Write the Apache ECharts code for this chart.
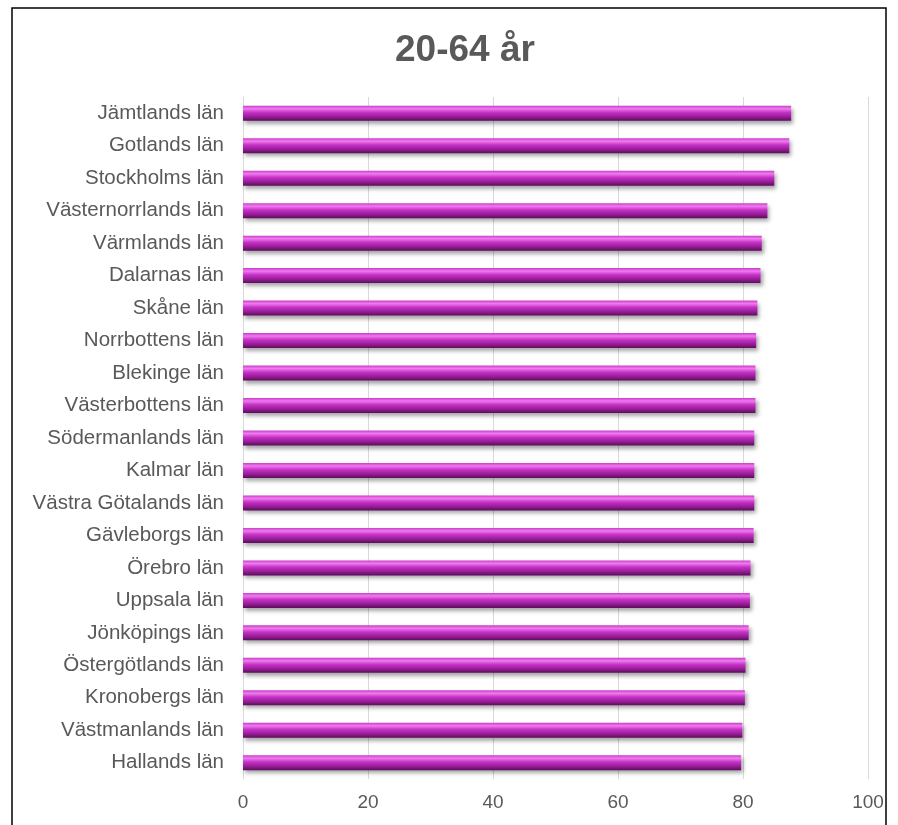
<!DOCTYPE html>
<html><head><meta charset="utf-8">
<script src="https://cdn.jsdelivr.net/npm/echarts@6/dist/echarts.min.js"></script>
<style>html,body{margin:0;padding:0;background:#fff}#c{width:898px;height:825px}</style>
</head><body><div id="c"></div>
<script>
const titleText = "20-64 år";
const categories = ["Jämtlands län","Gotlands län","Stockholms län","Västernorrlands län","Värmlands län","Dalarnas län","Skåne län","Norrbottens län","Blekinge län","Västerbottens län","Södermanlands län","Kalmar län","Västra Götalands län","Gävleborgs län","Örebro län","Uppsala län","Jönköpings län","Östergötlands län","Kronobergs län","Västmanlands län","Hallands län"];
const values = [87.7,87.4,85.0,83.9,83.0,82.8,82.3,82.1,82.0,82.0,81.8,81.8,81.8,81.7,81.2,81.1,80.9,80.4,80.3,79.9,79.7];
const xTicks = {min:0,max:100,interval:20};

const chart = echarts.init(document.getElementById('c'), null, {renderer:'canvas'});
chart.setOption({
  animation:false,
  backgroundColor:'#fff',
  title:{text:titleText,left:390,top:27,textStyle:{fontFamily:'Liberation Sans, Arial',fontSize:37,fontWeight:'bold',color:'#595959'}},
  graphic:[{type:'rect',shape:{x:12,y:8,width:874,height:830},style:{fill:'none',stroke:'#000',lineWidth:1.5},silent:true,z:-1}],
  grid:{left:243,right:30,top:97,bottom:46,containLabel:false},
  xAxis:{type:'value',min:xTicks.min,max:xTicks.max,interval:xTicks.interval,
    axisLine:{show:false},axisTick:{show:false},
    splitLine:{lineStyle:{color:'#d9d9d9',width:1}},
    axisLabel:{fontFamily:'Liberation Sans, Arial',fontSize:19,color:'#595959',margin:14}},
  yAxis:{type:'category',inverse:true,data:categories,
    axisLine:{show:true,lineStyle:{color:'#d9d9d9',width:1}},axisTick:{show:false},
    axisLabel:{fontFamily:'Liberation Sans, Arial',fontSize:20.5,color:'#595959',margin:19}},
  series:[{type:'bar',data:values,barWidth:15,
    itemStyle:{color:new echarts.graphic.LinearGradient(0,0,0,1,[
      {offset:0,color:'#c93ec9'},{offset:0.2,color:'#f07af0'},{offset:0.45,color:'#c532c5'},{offset:0.75,color:'#951c95'},{offset:1,color:'#5a0d5a'}]),
      shadowColor:'rgba(0,0,0,0.35)',shadowBlur:4,shadowOffsetX:2,shadowOffsetY:3}}]
});
</script></body></html>
